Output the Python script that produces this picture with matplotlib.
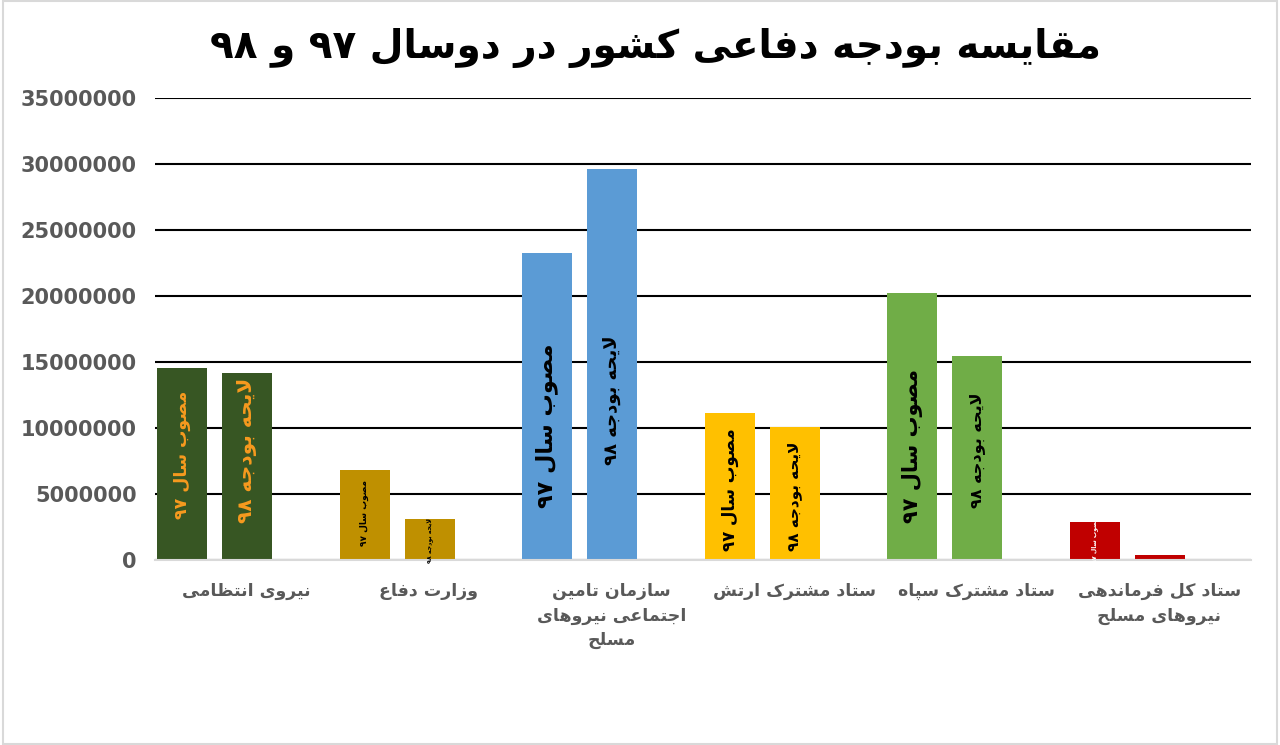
import re
import numpy as np
import matplotlib
matplotlib.use('Agg')
import matplotlib.pyplot as plt
from matplotlib.patches import Rectangle

# Data
categories = ['نیروی انتظامی', 'وزارت دفاع', 'سازمان تامین\nاجتماعی نیروهای\nمسلح',
              'ستاد مشترک ارتش', 'ستاد مشترک سپاه', 'ستاد کل فرماندهی\nنیروهای مسلح']
approved_97 = [14550000, 6800000, 23250000, 11100000, 20200000, 2900000]
proposed_98 = [14150000, 3100000, 29600000, 10100000, 15450000, 380000]
label_97 = 'مصوب سال ۹۷'
label_98 = 'لایحه بودجه ۹۸'
title = 'مقایسه بودجه دفاعی کشور در دوسال ۹۷ و ۹۸'
yticks = [0, 5000000, 10000000, 15000000, 20000000, 25000000, 30000000, 35000000]

# styling per category
bar_colors = ['#375623', '#BF9000', '#5B9BD5', '#FFC000', '#70AD47', '#C00000']
text_colors = ['#F79A1E', 'black', 'black', 'black', 'black', 'white']
size_97 = [12.5, 6.5, 16, 12, 15, 4.5]
size_98 = [14.5, 4.5, 13, 11, 11.5, 0]
ypos_97 = [8.0e6, 3.6e6, 10.2e6, 5.3e6, 8.6e6, 1.5e6]
ypos_98 = [8.3e6, 1.5e6, 12.1e6, 4.8e6, 8.3e6, 0]

# --- minimal Persian shaping, matplotlib has no bidi/shaping ---
DUAL = {
    'ب': '\uFE8F\uFE90\uFE91\uFE92', 'پ': '\uFB56\uFB57\uFB58\uFB59',
    'ت': '\uFE95\uFE96\uFE97\uFE98', 'ج': '\uFE9D\uFE9E\uFE9F\uFEA0',
    'ح': '\uFEA1\uFEA2\uFEA3\uFEA4', 'س': '\uFEB1\uFEB2\uFEB3\uFEB4',
    'ش': '\uFEB5\uFEB6\uFEB7\uFEB8', 'ص': '\uFEB9\uFEBA\uFEBB\uFEBC',
    'ظ': '\uFEC5\uFEC6\uFEC7\uFEC8', 'ع': '\uFEC9\uFECA\uFECB\uFECC',
    'ف': '\uFED1\uFED2\uFED3\uFED4', 'ق': '\uFED5\uFED6\uFED7\uFED8',
    'ک': '\uFB8E\uFB8F\uFB90\uFB91', 'ل': '\uFEDD\uFEDE\uFEDF\uFEE0',
    'م': '\uFEE1\uFEE2\uFEE3\uFEE4', 'ن': '\uFEE5\uFEE6\uFEE7\uFEE8',
    'ه': '\uFEE9\uFEEA\uFEEB\uFEEC', 'ی': '\uFBFC\uFBFD\uFBFE\uFBFF',
}
RIGHT = {
    'ا': '\uFE8D\uFE8E', 'د': '\uFEA9\uFEAA', 'ر': '\uFEAD\uFEAE',
    'ز': '\uFEAF\uFEB0', 'و': '\uFEED\uFEEE',
}


def shape(line):
    line = line.replace('ي', 'ی').replace('ك', 'ک')
    out = []
    i = 0
    while i < len(line):
        c = line[i]
        prev = line[i - 1] if i > 0 else ''
        nxt = line[i + 1] if i + 1 < len(line) else ''
        link_prev = prev in DUAL
        if c == 'ل' and nxt == 'ا':
            out.append('\uFEFC' if link_prev else '\uFEFB')
            i += 2
            continue
        if c in DUAL:
            link_next = nxt in DUAL or nxt in RIGHT
            iso, fin, ini, med = DUAL[c]
            if link_prev and link_next:
                out.append(med)
            elif link_prev:
                out.append(fin)
            elif link_next:
                out.append(ini)
            else:
                out.append(iso)
        elif c in RIGHT:
            out.append(RIGHT[c][1] if link_prev else RIGHT[c][0])
        else:
            out.append(c)
        i += 1
    # visual order: reverse, but keep digit runs left-to-right
    toks = re.findall(r'[0-9۰-۹]+|.', ''.join(out))
    return ''.join(reversed(toks))


def fa(text):
    return '\n'.join(shape(l) for l in text.split('\n'))


fig = plt.figure(figsize=(12.8, 7.45), dpi=100)
ax = fig.add_axes([0.121, 0.2483, 0.856, 0.6202])

x = np.arange(len(categories))
w = 0.274
ax.bar(x + 0.148, approved_97, width=w, color=bar_colors, zorder=2)
ax.bar(x + 0.504, proposed_98, width=w, color=bar_colors, zorder=2)

for i in range(len(categories)):
    if size_97[i] > 0:
        ax.text(x[i] + 0.148, ypos_97[i], fa(label_97), rotation=90, ha='center', va='center',
                fontsize=size_97[i], fontweight='bold', color=text_colors[i], zorder=3)
    if size_98[i] > 0:
        ax.text(x[i] + 0.504, ypos_98[i], fa(label_98), rotation=90, ha='center', va='center',
                fontsize=size_98[i], fontweight='bold', color=text_colors[i], zorder=3)

ax.set_xlim(0, len(categories))
ax.set_ylim(0, 35000000)
ax.set_yticks(yticks)
ax.set_yticklabels([str(v) for v in yticks], fontsize=15, fontweight='bold', color='#595959')
ax.yaxis.grid(True, color='black', linewidth=1.5, zorder=0)
ax.set_axisbelow(True)
ax.set_xticks(x + 0.5)
ax.set_xticklabels([fa(c) for c in categories], fontsize=12.5, fontweight='bold',
                   color='#595959', linespacing=1.45, va='top')
ax.tick_params(axis='both', length=0)
ax.tick_params(axis='y', pad=13)
ax.tick_params(axis='x', pad=16)
for s in ['top', 'right', 'left']:
    ax.spines[s].set_visible(False)
ax.spines['bottom'].set_color('#D9D9D9')
ax.spines['bottom'].set_linewidth(1.5)

fig.text(0.512, 0.935, fa(title), ha='center', va='center', fontsize=28, fontweight='bold', color='black')

# light frame around the picture
fig.patches.append(Rectangle((0.002, 0.002), 0.996, 0.996, transform=fig.transFigure,
                             fill=False, edgecolor='#D9D9D9', linewidth=1.5))

fig.savefig('out.png', dpi=100)
